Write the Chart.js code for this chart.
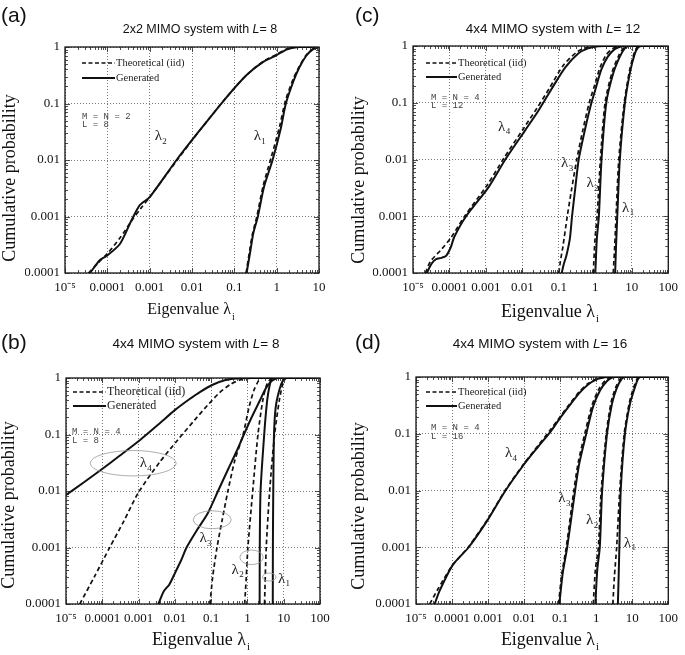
<!DOCTYPE html>
<html><head><meta charset="utf-8">
<script src="https://cdn.jsdelivr.net/npm/chart.js@4.4.1/dist/chart.umd.min.js"></script>
<style>
html,body{margin:0;padding:0;background:#fff;}
#wrap{position:relative;width:685px;height:655px;overflow:hidden;background:#fff;}
#wrap canvas{position:absolute;left:0;top:0;width:685px;height:655px;}
</style></head><body>
<div id="wrap">
<canvas id="cva" width="685" height="655"></canvas>
<canvas id="cvc" width="685" height="655"></canvas>
<canvas id="cvb" width="685" height="655"></canvas>
<canvas id="cvd" width="685" height="655"></canvas>
</div>
<script>
// ---------- tick values / labels ----------
const yTickValues = [1e-4, 1e-3, 1e-2, 1e-1, 1];
const yTickLabels = ['0.0001', '0.001', '0.01', '0.1', '1'];
const xTickValues10 = [1e-5, 1e-4, 1e-3, 1e-2, 1e-1, 1, 10];
const xTickLabels10 = ['10\u207B\u2075', '0.0001', '0.001', '0.01', '0.1', '1', '10'];
const xTickValues100 = [1e-5, 1e-4, 1e-3, 1e-2, 1e-1, 1, 10, 100];
const xTickLabels100 = ['10\u207B\u2075', '0.0001', '0.001', '0.01', '0.1', '1', '10', '100'];
const legendLabels = ['Theoretical (iid)', 'Generated'];

// ---------- (a) 2x2, L = 8 : [eigenvalue, cumulative probability] ----------
const a_lam2_theo = [[3.6e-5,1e-4],[6e-5,1.5e-4],[1e-4,2.2e-4],[2e-4,4.2e-4],[4e-4,9e-4],[6e-4,1.35e-3],[1e-3,2.2e-3],[4.4e-3,0.0098],[0.0155,0.034],[0.066,0.13],[0.195,0.32],[0.49,0.56],[1.0,0.74],[1.7,0.92],[2.6,0.985],[3.4,1],[10,1]];
const a_lam2_gen  = [[3.9e-5,1e-4],[6.7e-5,1.7e-4],[9.6e-5,2.0e-4],[2.0e-4,3.3e-4],[3.7e-4,8.5e-4],[5.9e-4,1.6e-3],[1.0e-3,2.2e-3],[4.4e-3,0.0102],[0.0155,0.034],[0.066,0.13],[0.195,0.32],[0.49,0.55],[1.0,0.72],[1.7,0.9],[2.6,0.98],[3.5,1],[10,1]];
const a_lam1_theo = [[0.19,1e-4],[0.23,2.5e-4],[0.27,5e-4],[0.34,1e-3],[0.48,3.5e-3],[0.74,0.011],[1.18,0.04],[1.6,0.11],[2.45,0.27],[3.4,0.45],[5.0,0.72],[7.0,0.91],[9.5,0.995],[10,1]];
const a_lam1_gen  = [[0.195,1e-4],[0.24,2.5e-4],[0.28,5e-4],[0.36,1e-3],[0.5,3.3e-3],[0.8,0.01],[1.25,0.036],[1.65,0.1],[2.5,0.25],[3.4,0.43],[5.0,0.7],[7.0,0.9],[9.5,0.99],[10,1]];
const a_lamLabels = [['2',1.6e-3,0.026],['1',0.35,0.026]];

// ---------- (c) 4x4, L = 12 ----------
const c_lam4_theo = [[2.2e-5,1e-4],[3e-5,1.6e-4],[6e-5,2.6e-4],[1.1e-4,4.2e-4],[2.6e-4,1e-3],[1.1e-3,3.6e-3],[3.1e-3,0.0105],[0.011,0.036],[0.025,0.08],[0.055,0.18],[0.13,0.45],[0.3,0.77],[0.55,0.93],[1.0,0.99],[1.6,1],[100,1]];
const c_lam4_gen  = [[2.4e-5,1e-4],[3.2e-5,1.45e-4],[4.3e-5,1.75e-4],[6e-5,1.85e-4],[8.1e-5,2.0e-4],[1.1e-4,2.9e-4],[1.35e-4,4.3e-4],[2.8e-4,9.8e-4],[1.2e-3,3.3e-3],[3.4e-3,0.01],[0.012,0.033],[0.028,0.074],[0.063,0.175],[0.15,0.42],[0.34,0.74],[0.63,0.91],[1.2,0.99],[1.8,1],[100,1]];
const c_lam3_theo = [[0.1,1e-4],[0.11,1.6e-4],[0.13,3e-4],[0.17,1e-3],[0.22,2.8e-3],[0.31,0.01],[0.45,0.032],[0.68,0.1],[0.95,0.2],[1.35,0.42],[2.0,0.7],[3.0,0.9],[4.5,0.99],[5.5,1],[100,1]];
const c_lam3_gen  = [[0.12,1e-4],[0.135,1.4e-4],[0.16,2e-4],[0.2,4e-4],[0.23,1e-3],[0.28,3e-3],[0.35,0.01],[0.5,0.03],[0.75,0.09],[1.0,0.17],[1.45,0.38],[2.2,0.65],[3.4,0.88],[5,0.98],[6.5,1],[100,1]];
const c_lam2_theo = [[0.88,1e-4],[0.98,4e-4],[1.12,1e-3],[1.38,0.01],[1.85,0.1],[2.9,0.35],[4.4,0.68],[6,0.93],[8,1],[100,1]];
const c_lam2_gen  = [[1.0,1e-4],[1.1,4e-4],[1.25,1e-3],[1.48,0.01],[2.0,0.1],[3.1,0.33],[4.7,0.65],[6.5,0.92],[8.5,1],[100,1]];
const c_lam1_theo = [[3.1,1e-4],[3.4,3e-4],[3.7,1e-3],[4.4,0.01],[6.2,0.1],[8.7,0.37],[11.5,0.74],[14,0.95],[18,1],[100,1]];
const c_lam1_gen  = [[3.5,1e-4],[3.7,3e-4],[4.0,1e-3],[4.7,0.01],[6.5,0.1],[9,0.35],[12,0.72],[15,0.95],[19,1],[100,1]];
const c_lamLabels = [['4',2.7e-3,0.038],['3',0.145,0.0085],['2',0.72,0.0038],['1',6.8,0.0014]];

// ---------- (b) 4x4, L = 8 ----------
const b_lam4_theo = [[2.4e-5,1e-4],[6e-5,3e-4],[1.6e-4,1e-3],[4e-4,3e-3],[1e-3,0.0095],[3.9e-3,0.033],[0.012,0.08],[0.035,0.18],[0.08,0.33],[0.17,0.55],[0.35,0.78],[0.62,0.92],[1.0,0.98],[1.5,1],[100,1]];
const b_lam4_gen  = [[1e-5,0.0085],[3e-5,0.014],[8.7e-5,0.023],[3e-4,0.042],[1.1e-3,0.08],[3.5e-3,0.15],[0.01,0.27],[0.025,0.42],[0.05,0.57],[0.11,0.76],[0.25,0.92],[0.5,0.98],[1.0,1],[100,1]];
const b_lam3_theo = [[0.093,1e-4],[0.11,3e-4],[0.145,1e-3],[0.2,3e-3],[0.29,0.01],[0.45,0.035],[0.76,0.1],[1.1,0.3],[1.5,0.6],[2.0,0.88],[2.5,0.99],[3,1],[100,1]];
const b_lam3_gen  = [[3.5e-3,1e-4],[5e-3,1.7e-4],[7e-3,2.2e-4],[0.01,3.5e-4],[0.015,6e-4],[0.021,1e-3],[0.04,2e-3],[0.08,4e-3],[0.155,0.01],[0.3,0.025],[0.5,0.05],[0.8,0.1],[1.3,0.2],[2.2,0.4],[3.2,0.65],[4.5,0.87],[6,0.98],[7,1],[100,1]];
const b_lam2_theo = [[0.84,1e-4],[0.93,3e-4],[1.03,1e-3],[1.4,0.01],[1.95,0.1],[2.7,0.43],[3.5,0.8],[4.5,0.98],[5,1],[100,1]];
const b_lam2_gen  = [[2.17,1e-4],[2.19,1e-3],[2.3,0.01],[2.9,0.1],[3.5,0.4],[4.2,0.8],[4.8,0.98],[5.2,1],[100,1]];
const b_lam1_theo = [[2.96,1e-4],[3.3,1e-3],[4.1,0.01],[5.6,0.1],[7.7,0.43],[9.5,0.8],[11,0.97],[12.5,1],[100,1]];
const b_lam1_gen  = [[5.0,1e-4],[5.03,1e-3],[5.15,0.01],[5.4,0.1],[6,0.3],[7.5,0.6],[9.5,0.9],[12,1],[100,1]];
const b_lamLabels = [['4',1.35e-3,0.031],['3',0.06,0.00145],['2',0.46,4e-4],['1',8.7,2.8e-4]];
const b_ellipseCenters = [[7.1e-4,0.031],[0.107,0.0031],[1.3,6.7e-4],[4.0,3e-4]];

// ---------- (d) 4x4, L = 16 ----------
const d_lam4_theo = [[2.4e-5,1e-4],[4e-5,1.8e-4],[1e-4,4.7e-4],[2.8e-4,1e-3],[1e-3,3.2e-3],[2.9e-3,0.0098],[0.01,0.03],[0.025,0.063],[0.055,0.12],[0.1,0.2],[0.2,0.36],[0.35,0.56],[0.6,0.77],[1.0,0.92],[1.5,0.98],[2.2,1],[100,1]];
const d_lam4_gen  = [[3.3e-5,1e-4],[4.5e-5,1.7e-4],[1.05e-4,4.9e-4],[2.9e-4,1e-3],[1e-3,3.1e-3],[2.9e-3,0.0095],[0.01,0.029],[0.025,0.06],[0.055,0.11],[0.1,0.19],[0.2,0.34],[0.35,0.53],[0.6,0.74],[1.0,0.9],[1.5,0.97],[2.2,0.995],[3,1],[100,1]];
const d_lam3_theo = [[0.09,1e-4],[0.112,3.5e-4],[0.148,1e-3],[0.24,0.01],[0.32,0.032],[0.5,0.11],[0.77,0.32],[1.2,0.62],[1.8,0.87],[2.5,0.98],[3.2,1],[100,1]];
const d_lam3_gen  = [[0.095,1e-4],[0.118,3.5e-4],[0.157,1e-3],[0.26,0.01],[0.34,0.03],[0.53,0.1],[0.82,0.3],[1.3,0.59],[2.0,0.85],[2.75,0.98],[3.5,1],[100,1]];
const d_lam2_theo = [[0.83,1e-4],[0.95,4e-4],[1.15,1e-3],[1.38,0.01],[1.9,0.1],[2.6,0.36],[3.5,0.66],[4.8,0.95],[5.8,1],[100,1]];
const d_lam2_gen  = [[0.95,1e-4],[1.07,4e-4],[1.26,1e-3],[1.46,0.0095],[2.0,0.1],[2.75,0.34],[3.7,0.63],[5.1,0.93],[6.3,1],[100,1]];
const d_lam1_theo = [[2.9,1e-4],[3.2,3e-4],[3.7,1e-3],[4.5,0.01],[6.0,0.1],[8.3,0.35],[11,0.66],[14,0.95],[16,1],[100,1]];
const d_lam1_gen  = [[4.0,1e-4],[4.2,3e-4],[4.4,1e-3],[4.8,0.01],[6.3,0.1],[8.7,0.34],[11.8,0.65],[14.5,0.92],[17,1],[100,1]];
const d_lamLabels = [['4',3.7e-3,0.045],['3',0.112,0.0073],['2',0.66,0.003],['1',7.4,0.0012]];

// ---------- layout / style (not data) ----------
const SERIF = "'Liberation Serif', 'Times New Roman', serif";
const SANS = "'Liberation Sans', Arial, sans-serif";
const MONO = "'Liberation Mono', monospace";
const Y_W = 40, X_H = 30;

const panels = [
  { id:'cva', area:{left:65,right:319,top:47,bottom:273}, xv:xTickValues10, xl:xTickLabels10,
    theo:[a_lam2_theo,a_lam1_theo], gen:[a_lam2_gen,a_lam1_gen], lam:a_lamLabels, ell:[],
    letter:['(a)',1,16], title:['2x2 MIMO system with ','L','= 8'], titlePos:[200,30,12.5],
    yTitle:[10,178], xTitle:[191,310,16], legend:[82,63,78,33,10.5], mn:['M = N = 2','L = 8',82,117,125] },
  { id:'cvc', area:{left:413,right:671,top:46,bottom:273}, xv:xTickValues100, xl:xTickLabels100,
    theo:[c_lam4_theo,c_lam3_theo,c_lam2_theo,c_lam1_theo], gen:[c_lam4_gen,c_lam3_gen,c_lam2_gen,c_lam1_gen], lam:c_lamLabels, ell:[],
    letter:['(c)',355,16], title:['4x4 MIMO system with ','L','= 12'], titlePos:[553,29,13.5],
    yTitle:[359,180], xTitle:[550,312,18], legend:[426,63,77,31,10.5], mn:['M = N = 4','L = 12',431,98,106] },
  { id:'cvb', area:{left:66,right:320,top:378,bottom:604}, xv:xTickValues100, xl:xTickLabels100,
    theo:[b_lam4_theo,b_lam3_theo,b_lam2_theo,b_lam1_theo], gen:[b_lam4_gen,b_lam3_gen,b_lam2_gen,b_lam1_gen], lam:b_lamLabels,
    ell:b_ellipseCenters, ellR:[[43,12.7],[19,9],[11.7,7.3],[6.7,4]],
    letter:['(b)',1,343], title:['4x4 MIMO system with ','L','= 8'], titlePos:[196,344,13.5],
    yTitle:[9,505], xTitle:[201,640,18], legend:[73,392,406,33,12], mn:['M = N = 4','L = 8',72,432,441] },
  { id:'cvd', area:{left:416,right:672,top:377,bottom:604}, xv:xTickValues100, xl:xTickLabels100,
    theo:[d_lam4_theo,d_lam3_theo,d_lam2_theo,d_lam1_theo], gen:[d_lam4_gen,d_lam3_gen,d_lam2_gen,d_lam1_gen], lam:d_lamLabels, ell:[],
    letter:['(d)',355,343], title:['4x4 MIMO system with ','L','= 16'], titlePos:[540,344,13.5],
    yTitle:[359,506], xTitle:[550,640,18], legend:[426,392,406,31,10.5], mn:['M = N = 4','L = 16',431,428,437] }
];

function labelFor(values, labels, v) {
  for (let i = 0; i < values.length; i++) if (Math.abs(Math.log10(v) - Math.log10(values[i])) < 1e-6) return labels[i];
  return '';
}

function decor(P) {
  return {
    id: 'decor_' + P.id,
    afterDraw(chart) {
      const ctx = chart.ctx, a = chart.chartArea, xs = chart.scales.x, ys = chart.scales.y;
      ctx.save();
      ctx.setLineDash([]);
      ctx.strokeStyle = '#000'; ctx.lineWidth = 1.2;
      ctx.strokeRect(a.left, a.top, a.right - a.left, a.bottom - a.top);
      ctx.lineWidth = 0.8; ctx.strokeStyle = '#222';
      const seg = (x1,y1,x2,y2) => { ctx.beginPath(); ctx.moveTo(x1,y1); ctx.lineTo(x2,y2); ctx.stroke(); };
      const xd0 = Math.round(Math.log10(xs.min)), xd1 = Math.round(Math.log10(xs.max));
      for (let d = xd0; d <= xd1; d++) for (let k = 1; k <= 9; k++) {
        const v = k * Math.pow(10, d); if (v > xs.max * 1.0001) break;
        const px = Math.round(xs.getPixelForValue(v)) + 0.5, len = k === 1 ? 5 : 3;
        seg(px, a.bottom, px, a.bottom - len); seg(px, a.top, px, a.top + len);
      }
      const yd0 = Math.round(Math.log10(ys.min)), yd1 = Math.round(Math.log10(ys.max));
      for (let d = yd0; d <= yd1; d++) for (let k = 1; k <= 9; k++) {
        const v = k * Math.pow(10, d); if (v > ys.max * 1.0001) break;
        const py = Math.round(ys.getPixelForValue(v)) + 0.5, len = k === 1 ? 5 : 3;
        seg(a.left, py, a.left + len, py); seg(a.right, py, a.right - len, py);
      }
      // legend
      const [lx, ly1, ly2, llen, lfs] = P.legend;
      ctx.strokeStyle = '#111'; ctx.lineWidth = 1.7;
      ctx.setLineDash([4, 2.5]); seg(lx, ly1, lx + llen, ly1);
      ctx.setLineDash([]); ctx.lineWidth = 2; seg(lx, ly2, lx + llen, ly2);
      ctx.fillStyle = '#222'; ctx.font = lfs + 'px ' + SERIF; ctx.textAlign = 'left'; ctx.textBaseline = 'middle';
      ctx.fillText(legendLabels[0], lx + llen + 1, ly1);
      ctx.fillText(legendLabels[1], lx + llen + 1, ly2);
      // M = N annotation
      ctx.fillStyle = '#444'; ctx.font = '9px ' + MONO;
      ctx.fillText(P.mn[0], P.mn[2], P.mn[3]);
      ctx.fillText(P.mn[1], P.mn[2], P.mn[4]);
      // ellipses
      ctx.strokeStyle = '#999'; ctx.lineWidth = 0.8;
      P.ell.forEach((c, i) => {
        const cx = xs.getPixelForValue(c[0]), cy = ys.getPixelForValue(c[1]);
        ctx.beginPath(); ctx.ellipse(cx, cy, P.ellR[i][0], P.ellR[i][1], 0, 0, Math.PI * 2); ctx.stroke();
      });
      // lambda labels
      ctx.fillStyle = '#222';
      P.lam.forEach(l => {
        const cx = xs.getPixelForValue(l[1]), cy = ys.getPixelForValue(l[2]);
        ctx.font = '15px ' + SERIF; ctx.textAlign = 'center'; ctx.textBaseline = 'middle';
        ctx.fillText('\u03BB', cx, cy);
        ctx.font = '9px ' + SERIF; ctx.textAlign = 'left';
        ctx.fillText(l[0], cx + 4, cy + 5);
      });
      // panel letter
      ctx.fillStyle = '#111'; ctx.font = '21px ' + SANS; ctx.textAlign = 'left'; ctx.textBaseline = 'middle';
      ctx.fillText(P.letter[0], P.letter[1], P.letter[2]);
      // title with italic L
      const [tcx, tcy, tfs] = P.titlePos;
      const f1 = tfs + 'px ' + SANS, f2 = 'italic ' + tfs + 'px ' + SANS;
      ctx.font = f1; const w1 = ctx.measureText(P.title[0]).width, w3 = ctx.measureText(P.title[2]).width;
      ctx.font = f2; const w2 = ctx.measureText(P.title[1]).width;
      let tx = tcx - (w1 + w2 + w3) / 2;
      ctx.font = f1; ctx.fillText(P.title[0], tx, tcy); tx += w1;
      ctx.font = f2; ctx.fillText(P.title[1], tx, tcy); tx += w2;
      ctx.font = f1; ctx.fillText(P.title[2], tx, tcy);
      // y axis title
      ctx.save(); ctx.translate(P.yTitle[0], P.yTitle[1]); ctx.rotate(-Math.PI / 2);
      ctx.font = '18px ' + SERIF; ctx.textAlign = 'center'; ctx.textBaseline = 'middle';
      ctx.fillText('Cumulative probability', 0, 0); ctx.restore();
      // x axis title with subscript
      const [xcx, xcy, xfs] = P.xTitle;
      ctx.font = xfs + 'px ' + SERIF; const mw = ctx.measureText('Eigenvalue \u03BB').width;
      ctx.font = Math.round(xfs * 0.6) + 'px ' + SERIF; const sw = ctx.measureText('i').width;
      let sx = xcx - (mw + sw + 1) / 2;
      ctx.font = xfs + 'px ' + SERIF; ctx.textAlign = 'left'; ctx.fillText('Eigenvalue \u03BB', sx, xcy);
      ctx.font = Math.round(xfs * 0.6) + 'px ' + SERIF; ctx.fillText('i', sx + mw + 1, xcy + 7);
      ctx.restore();
    }
  };
}

function makeChart(P) {
  const datasets = [];
  P.theo.forEach(c => datasets.push({ data: c.map(p => ({x:p[0], y:p[1]})), showLine:true, pointRadius:0,
    borderColor:'#111', borderWidth:1.7, borderDash:[4.5,3], tension:0.25, fill:false }));
  P.gen.forEach(c => datasets.push({ data: c.map(p => ({x:p[0], y:p[1]})), showLine:true, pointRadius:0,
    borderColor:'#111', borderWidth:2, borderDash:[], tension:0.25, fill:false }));
  const a = P.area;
  return new Chart(document.getElementById(P.id), {
    type: 'scatter',
    data: { datasets },
    options: {
      responsive:false, animation:false, devicePixelRatio:1, events:[],
      layout: { padding: { left: a.left - Y_W, top: a.top, right: 685 - a.right, bottom: 655 - a.bottom - X_H } },
      plugins: { legend:{display:false}, tooltip:{enabled:false}, title:{display:false} },
      scales: {
        x: { type:'logarithmic', position:'bottom', min:P.xv[0], max:P.xv[P.xv.length-1],
          afterBuildTicks: s => { s.ticks = P.xv.map(v => ({ value: v })); },
          afterFit: s => { s.height = X_H; },
          ticks: { autoSkip:false, maxRotation:0, minRotation:0, padding:7, color:'#111',
            font:{ family:SERIF, size:13 }, callback: v => labelFor(P.xv, P.xl, v) },
          grid: { color:'#555', lineWidth:0.8, drawTicks:false },
          border: { display:false, dash:[1,2] } },
        y: { type:'logarithmic', position:'left', min:yTickValues[0], max:yTickValues[yTickValues.length-1],
          afterBuildTicks: s => { s.ticks = yTickValues.map(v => ({ value: v })); },
          afterFit: s => { s.width = Y_W; },
          ticks: { autoSkip:false, padding:5, color:'#111', font:{ family:SERIF, size:13 },
            callback: v => labelFor(yTickValues, yTickLabels, v) },
          grid: { color:'#555', lineWidth:0.8, drawTicks:false },
          border: { display:false, dash:[1,2] } }
      }
    },
    plugins: [decor(P)]
  });
}

panels.forEach(makeChart);
</script>
</body></html>
